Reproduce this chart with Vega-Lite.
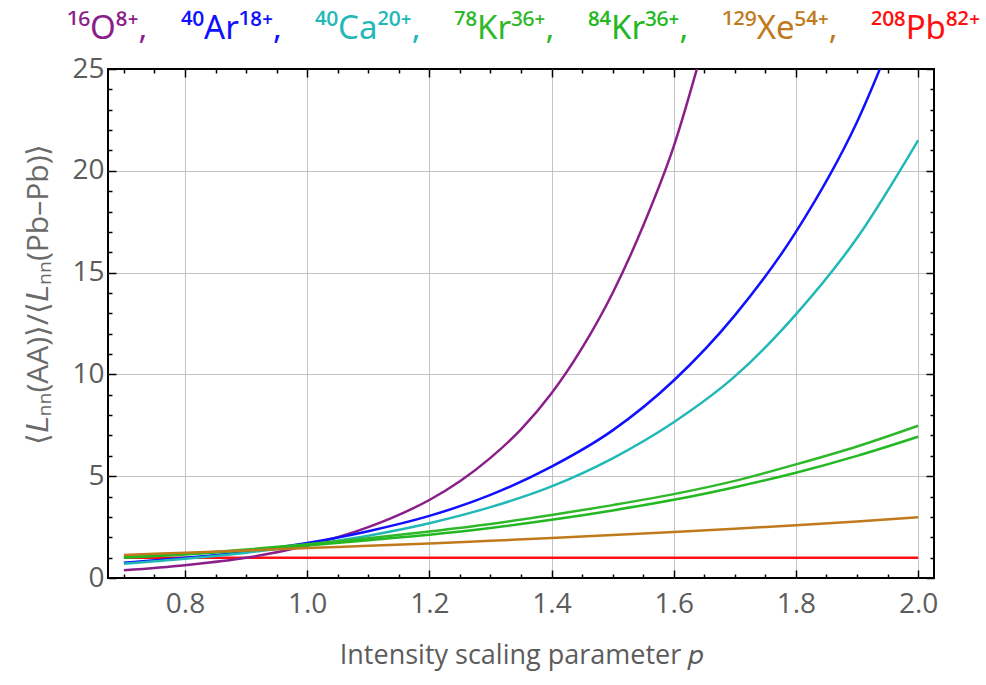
{
  "$schema": "https://vega.github.io/schema/vega-lite/v6.json",
  "width": 826,
  "height": 509,
  "autosize": "none",
  "padding": {"left": 108, "top": 69, "right": 52, "bottom": 107},
  "background": "white",
  "config": {
    "view": {"stroke": "#000", "strokeWidth": 2},
    "font": "Open Sans"
  },
  "data": {
    "values": [
      {"p": 0.7, "v": 1.0, "ion": "²⁰⁸Pb⁸²⁺"},
      {"p": 1.0, "v": 1.0, "ion": "²⁰⁸Pb⁸²⁺"},
      {"p": 1.5, "v": 1.0, "ion": "²⁰⁸Pb⁸²⁺"},
      {"p": 2.0, "v": 1.0, "ion": "²⁰⁸Pb⁸²⁺"},
      {"p": 0.7, "v": 0.38, "ion": "¹⁶O⁸⁺,"},
      {"p": 0.8, "v": 0.63, "ion": "¹⁶O⁸⁺,"},
      {"p": 0.9, "v": 0.99, "ion": "¹⁶O⁸⁺,"},
      {"p": 1.0, "v": 1.6, "ion": "¹⁶O⁸⁺,"},
      {"p": 1.05, "v": 2.0, "ion": "¹⁶O⁸⁺,"},
      {"p": 1.1, "v": 2.5, "ion": "¹⁶O⁸⁺,"},
      {"p": 1.15, "v": 3.1, "ion": "¹⁶O⁸⁺,"},
      {"p": 1.2, "v": 3.83, "ion": "¹⁶O⁸⁺,"},
      {"p": 1.25, "v": 4.75, "ion": "¹⁶O⁸⁺,"},
      {"p": 1.3, "v": 5.9, "ion": "¹⁶O⁸⁺,"},
      {"p": 1.35, "v": 7.3, "ion": "¹⁶O⁸⁺,"},
      {"p": 1.4, "v": 9.07, "ion": "¹⁶O⁸⁺,"},
      {"p": 1.45, "v": 11.3, "ion": "¹⁶O⁸⁺,"},
      {"p": 1.5, "v": 14.0, "ion": "¹⁶O⁸⁺,"},
      {"p": 1.55, "v": 17.3, "ion": "¹⁶O⁸⁺,"},
      {"p": 1.6, "v": 21.2, "ion": "¹⁶O⁸⁺,"},
      {"p": 1.65, "v": 26.3, "ion": "¹⁶O⁸⁺,"},
      {"p": 0.7, "v": 0.75, "ion": "⁴⁰Ar¹⁸⁺,"},
      {"p": 0.8, "v": 0.99, "ion": "⁴⁰Ar¹⁸⁺,"},
      {"p": 0.9, "v": 1.29, "ion": "⁴⁰Ar¹⁸⁺,"},
      {"p": 1.0, "v": 1.72, "ion": "⁴⁰Ar¹⁸⁺,"},
      {"p": 1.1, "v": 2.3, "ion": "⁴⁰Ar¹⁸⁺,"},
      {"p": 1.2, "v": 3.05, "ion": "⁴⁰Ar¹⁸⁺,"},
      {"p": 1.3, "v": 4.08, "ion": "⁴⁰Ar¹⁸⁺,"},
      {"p": 1.4, "v": 5.47, "ion": "⁴⁰Ar¹⁸⁺,"},
      {"p": 1.5, "v": 7.25, "ion": "⁴⁰Ar¹⁸⁺,"},
      {"p": 1.6, "v": 9.7, "ion": "⁴⁰Ar¹⁸⁺,"},
      {"p": 1.7, "v": 12.9, "ion": "⁴⁰Ar¹⁸⁺,"},
      {"p": 1.8, "v": 17.0, "ion": "⁴⁰Ar¹⁸⁺,"},
      {"p": 1.9, "v": 22.4, "ion": "⁴⁰Ar¹⁸⁺,"},
      {"p": 2.0, "v": 29.8, "ion": "⁴⁰Ar¹⁸⁺,"},
      {"p": 0.7, "v": 0.7, "ion": "⁴⁰Ca²⁰⁺,"},
      {"p": 0.8, "v": 0.94, "ion": "⁴⁰Ca²⁰⁺,"},
      {"p": 0.9, "v": 1.24, "ion": "⁴⁰Ca²⁰⁺,"},
      {"p": 1.0, "v": 1.62, "ion": "⁴⁰Ca²⁰⁺,"},
      {"p": 1.1, "v": 2.08, "ion": "⁴⁰Ca²⁰⁺,"},
      {"p": 1.2, "v": 2.69, "ion": "⁴⁰Ca²⁰⁺,"},
      {"p": 1.3, "v": 3.48, "ion": "⁴⁰Ca²⁰⁺,"},
      {"p": 1.4, "v": 4.5, "ion": "⁴⁰Ca²⁰⁺,"},
      {"p": 1.5, "v": 5.88, "ion": "⁴⁰Ca²⁰⁺,"},
      {"p": 1.6, "v": 7.65, "ion": "⁴⁰Ca²⁰⁺,"},
      {"p": 1.7, "v": 9.9, "ion": "⁴⁰Ca²⁰⁺,"},
      {"p": 1.8, "v": 12.95, "ion": "⁴⁰Ca²⁰⁺,"},
      {"p": 1.9, "v": 16.7, "ion": "⁴⁰Ca²⁰⁺,"},
      {"p": 2.0, "v": 21.5, "ion": "⁴⁰Ca²⁰⁺,"},
      {"p": 0.7, "v": 1.03, "ion": "⁷⁸Kr³⁶⁺,"},
      {"p": 0.8, "v": 1.18, "ion": "⁷⁸Kr³⁶⁺,"},
      {"p": 0.9, "v": 1.4, "ion": "⁷⁸Kr³⁶⁺,"},
      {"p": 1.0, "v": 1.66, "ion": "⁷⁸Kr³⁶⁺,"},
      {"p": 1.1, "v": 1.95, "ion": "⁷⁸Kr³⁶⁺,"},
      {"p": 1.2, "v": 2.28, "ion": "⁷⁸Kr³⁶⁺,"},
      {"p": 1.3, "v": 2.65, "ion": "⁷⁸Kr³⁶⁺,"},
      {"p": 1.4, "v": 3.09, "ion": "⁷⁸Kr³⁶⁺,"},
      {"p": 1.5, "v": 3.58, "ion": "⁷⁸Kr³⁶⁺,"},
      {"p": 1.6, "v": 4.12, "ion": "⁷⁸Kr³⁶⁺,"},
      {"p": 1.7, "v": 4.77, "ion": "⁷⁸Kr³⁶⁺,"},
      {"p": 1.8, "v": 5.58, "ion": "⁷⁸Kr³⁶⁺,"},
      {"p": 1.9, "v": 6.46, "ion": "⁷⁸Kr³⁶⁺,"},
      {"p": 2.0, "v": 7.48, "ion": "⁷⁸Kr³⁶⁺,"},
      {"p": 0.7, "v": 1.0, "ion": "⁸⁴Kr³⁶⁺,"},
      {"p": 0.8, "v": 1.15, "ion": "⁸⁴Kr³⁶⁺,"},
      {"p": 0.9, "v": 1.35, "ion": "⁸⁴Kr³⁶⁺,"},
      {"p": 1.0, "v": 1.6, "ion": "⁸⁴Kr³⁶⁺,"},
      {"p": 1.1, "v": 1.86, "ion": "⁸⁴Kr³⁶⁺,"},
      {"p": 1.2, "v": 2.13, "ion": "⁸⁴Kr³⁶⁺,"},
      {"p": 1.3, "v": 2.46, "ion": "⁸⁴Kr³⁶⁺,"},
      {"p": 1.4, "v": 2.86, "ion": "⁸⁴Kr³⁶⁺,"},
      {"p": 1.5, "v": 3.32, "ion": "⁸⁴Kr³⁶⁺,"},
      {"p": 1.6, "v": 3.84, "ion": "⁸⁴Kr³⁶⁺,"},
      {"p": 1.7, "v": 4.46, "ion": "⁸⁴Kr³⁶⁺,"},
      {"p": 1.8, "v": 5.17, "ion": "⁸⁴Kr³⁶⁺,"},
      {"p": 1.9, "v": 6.0, "ion": "⁸⁴Kr³⁶⁺,"},
      {"p": 2.0, "v": 6.94, "ion": "⁸⁴Kr³⁶⁺,"},
      {"p": 0.7, "v": 1.13, "ion": "¹²⁹Xe⁵⁴⁺,"},
      {"p": 0.8, "v": 1.24, "ion": "¹²⁹Xe⁵⁴⁺,"},
      {"p": 0.9, "v": 1.35, "ion": "¹²⁹Xe⁵⁴⁺,"},
      {"p": 1.0, "v": 1.47, "ion": "¹²⁹Xe⁵⁴⁺,"},
      {"p": 1.1, "v": 1.58, "ion": "¹²⁹Xe⁵⁴⁺,"},
      {"p": 1.2, "v": 1.7, "ion": "¹²⁹Xe⁵⁴⁺,"},
      {"p": 1.3, "v": 1.83, "ion": "¹²⁹Xe⁵⁴⁺,"},
      {"p": 1.4, "v": 1.96, "ion": "¹²⁹Xe⁵⁴⁺,"},
      {"p": 1.5, "v": 2.11, "ion": "¹²⁹Xe⁵⁴⁺,"},
      {"p": 1.6, "v": 2.26, "ion": "¹²⁹Xe⁵⁴⁺,"},
      {"p": 1.7, "v": 2.42, "ion": "¹²⁹Xe⁵⁴⁺,"},
      {"p": 1.8, "v": 2.59, "ion": "¹²⁹Xe⁵⁴⁺,"},
      {"p": 1.9, "v": 2.78, "ion": "¹²⁹Xe⁵⁴⁺,"},
      {"p": 2.0, "v": 2.98, "ion": "¹²⁹Xe⁵⁴⁺,"}
    ]
  },
  "resolve": {"axis": {"x": "independent", "y": "independent"}},
  "layer": [
    {
      "mark": {"type": "line", "strokeWidth": 2.5, "interpolate": "monotone", "clip": true},
      "encoding": {
        "x": {
          "field": "p", "type": "quantitative",
          "scale": {"domain": [0.674, 2.026], "nice": false, "zero": false},
          "axis": {
            "orient": "bottom",
            "values": [0.7,0.75,0.8,0.85,0.9,0.95,1,1.05,1.1,1.15,1.2,1.25,1.3,1.35,1.4,1.45,1.5,1.55,1.6,1.65,1.7,1.75,1.8,1.85,1.9,1.95,2],
            "labelExpr": "round(datum.value*20)%4==0 ? format(datum.value,'.1f') : ''",
            "tickSize": {"condition": {"test": "round(datum.value*20)%4==0", "value": -8}, "value": -4},
            "grid": true,
            "gridColor": "#c4c4c4",
            "gridWidth": 1,
            "gridOpacity": {"condition": {"test": "round(datum.value*20)%4==0", "value": 1}, "value": 0},
            "domain": false,
            "tickColor": "#000",
            "tickWidth": 1.5,
            "labelFont": "Open Sans",
            "labelFontSize": 28,
            "labelColor": "#5c5c5c",
            "labelPadding": 20,
            "labelFlush": false,
            "labelOverlap": false,
            "title": "Intensity scaling parameter 𝑝",
            "titleFont": "Open Sans",
            "titleFontSize": 27,
            "titleFontWeight": "normal",
            "titleColor": "#5c5c5c",
            "titlePadding": 20
          }
        },
        "y": {
          "field": "v", "type": "quantitative",
          "scale": {"domain": [0, 25], "nice": false, "zero": false},
          "axis": {
            "orient": "left",
            "values": [0,1,2,3,4,5,6,7,8,9,10,11,12,13,14,15,16,17,18,19,20,21,22,23,24,25],
            "labelExpr": "datum.value%5==0 ? format(datum.value,'d') : ''",
            "tickSize": {"condition": {"test": "datum.value%5==0", "value": -8}, "value": -4},
            "grid": true,
            "gridColor": "#c4c4c4",
            "gridWidth": 1,
            "gridOpacity": {"condition": {"test": "datum.value%5==0 && datum.value>0 && datum.value<25", "value": 1}, "value": 0},
            "domain": false,
            "tickColor": "#000",
            "tickWidth": 1.5,
            "labelFont": "Open Sans",
            "labelFontSize": 28,
            "labelColor": "#5c5c5c",
            "labelPadding": 12,
            "labelFlush": false,
            "labelOverlap": false,
            "title": "⟨𝐿ₙₙ(AA)⟩/⟨𝐿ₙₙ(Pb–Pb)⟩",
            "titleFont": "Open Sans",
            "titleFontSize": 30,
            "titleFontWeight": "normal",
            "titleColor": "#6a6a6a",
            "titleY": 225,
            "titlePadding": 18
          }
        },
        "color": {
          "field": "ion", "type": "nominal",
          "scale": {
            "domain": ["¹⁶O⁸⁺,", "⁴⁰Ar¹⁸⁺,", "⁴⁰Ca²⁰⁺,", "⁷⁸Kr³⁶⁺,", "⁸⁴Kr³⁶⁺,", "¹²⁹Xe⁵⁴⁺,", "²⁰⁸Pb⁸²⁺"],
            "range": ["#8a1f8a", "#1010ff", "#22b8b8", "#2fb82a", "#22b822", "#c07a1c", "#ff1010"]
          },
          "legend": {
            "orient": "none",
            "legendX": -74,
            "legendY": -57,
            "direction": "horizontal",
            "gridAlign": "none",
            "title": null,
            "symbolSize": 0,
            "symbolOpacity": 0,
            "symbolStrokeWidth": 0,
            "labelOffset": 0,
            "columnPadding": 0,
            "labelFont": "Noto Sans",
            "labelFontSize": 33,
            "labelLimit": 0,
            "encode": {
              "labels": {"update": {"fill": {"scale": "color", "field": "value"}}}
            }
          }
        }
      }
    },
    {
      "mark": {"type": "point", "opacity": 0},
      "encoding": {
        "x": {
          "field": "p", "type": "quantitative",
          "axis": {
            "orient": "top",
            "values": [0.7,0.75,0.8,0.85,0.9,0.95,1,1.05,1.1,1.15,1.2,1.25,1.3,1.35,1.4,1.45,1.5,1.55,1.6,1.65,1.7,1.75,1.8,1.85,1.9,1.95,2],
            "labels": false,
            "title": null,
            "grid": false,
            "domain": false,
            "tickColor": "#000",
            "tickWidth": 1.5,
            "tickSize": {"condition": {"test": "round(datum.value*20)%4==0", "value": -8}, "value": -4}
          }
        },
        "y": {
          "field": "v", "type": "quantitative",
          "axis": {
            "orient": "right",
            "values": [0,1,2,3,4,5,6,7,8,9,10,11,12,13,14,15,16,17,18,19,20,21,22,23,24,25],
            "labels": false,
            "title": null,
            "grid": false,
            "domain": false,
            "tickColor": "#000",
            "tickWidth": 1.5,
            "tickSize": {"condition": {"test": "datum.value%5==0", "value": -8}, "value": -4}
          }
        }
      }
    }
  ]
}
